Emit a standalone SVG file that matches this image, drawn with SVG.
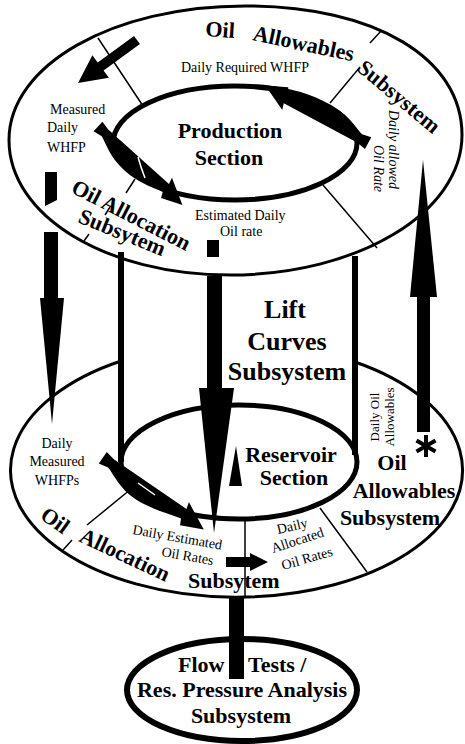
<svg xmlns="http://www.w3.org/2000/svg" width="465" height="744" viewBox="0 0 465 744">
<style>
.o{fill:none;stroke:#000;stroke-width:3}
.i{fill:none;stroke:#000;stroke-width:5}
.d{fill:none;stroke:#000;stroke-width:1.5}
.k{fill:#000;stroke:none}
.b{font-family:"Liberation Serif",serif;font-weight:bold;font-size:22px;fill:#000}
.bl{font-family:"Liberation Serif",serif;font-weight:bold;font-size:26px;fill:#000}
.r{font-family:"Liberation Serif",serif;font-size:14px;fill:#000}
.s{font-family:"Liberation Serif",serif;font-size:13px;fill:#000}
.it{font-family:"Liberation Serif",serif;font-style:italic;font-size:14px;fill:#000}
.m{text-anchor:middle}
</style>
<defs>
<path id="blob" d="M-2,-6 L8,-4 L96,-5 L94,-12 L122,2 L100,12 L97,6 C80,10 60,18 40,16 C25,14 15,8 8,6 L-2,8 Z"/>
</defs>
<rect width="465" height="744" fill="#fff"/>

<g id="oil-allowables-top">
<path class="o" d="M9,140 C9,65 113,6 245,6 C375,6 462,58 462,135 C462,213 357,275 230,275 C106,275 9,216 9,140 Z"/>
<path class="d" d="M98,38 L143,106 M330,103 L360,67 M370,43 L381,31 M323,185 L377,248 M135,179 L126,193 M110,207 L105,215 M89,234 L84,241"/>
<text class="b" transform="translate(205,36) rotate(4)">Oil</text>
<text class="b" transform="translate(252,40) rotate(12)">Allowables</text>
<text class="b" transform="translate(356,70) rotate(40)">Subsystem</text>
<text class="r m" x="245" y="72">Daily Required WHFP</text>
<text class="r" x="50" y="114">Measured</text>
<text class="r" x="47" y="132">Daily</text>
<text class="r" x="47" y="152">WHFP</text>
<text class="it" transform="translate(389,110) rotate(90)">Daily allowed</text>
<text class="it" transform="translate(374,145) rotate(90)">Oil Rate</text>
<text class="b" transform="translate(70,192) rotate(27)">Oil Allocation</text>
<text class="b" transform="translate(77,222) rotate(22)">Subsytem</text>
<text class="r" x="195" y="220">Estimated Daily</text>
<text class="r" x="220" y="236">Oil rate</text>
</g>

<g id="production-section">
<ellipse class="i" cx="235" cy="143" rx="122" ry="57"/>
<text class="b m" x="230" y="138">Production</text>
<text class="b m" x="229" y="165">Section</text>
</g>

<g id="lift-curves">
<path class="o" d="M121,361 A226,127 0 1 0 355,362"/>
<line x1="121" y1="252" x2="121" y2="462" stroke="#000" stroke-width="6"/>
<line x1="355" y1="256" x2="355" y2="455" stroke="#000" stroke-width="6"/>
<text class="bl m" x="285" y="318">Lift</text>
<text class="bl m" x="287" y="350">Curves</text>
<text class="bl m" x="287" y="380">Subsystem</text>
</g>

<g id="lower-ring">
<path class="d" d="M131,489 L87,525 M72,540 L63,550 M245,520 L245,597 M320,508 L367,572"/>
<text class="r m" x="57" y="448">Daily</text>
<text class="r m" x="57" y="466">Measured</text>
<text class="r m" x="57" y="485">WHFPs</text>
<text class="s m" transform="translate(379,417) rotate(-90)">Daily Oil</text>
<text class="s m" transform="translate(394,417) rotate(-90)">Allowables</text>
<text class="b m" x="392" y="470">Oil</text>
<text class="b m" x="404" y="498">Allowables</text>
<text class="b m" x="390" y="525">Subsystem</text>
<text class="b" transform="translate(39,518) rotate(35)">Oil</text>
<text class="b" transform="translate(78,541) rotate(25)">Allocation</text>
<text class="b" x="188" y="588">Subsytem</text>
<text class="r" transform="translate(132,534) rotate(10)">Daily Estimated</text>
<text class="r" transform="translate(161,556) rotate(10)">Oil Rates</text>
<text class="r" transform="translate(278,534) rotate(-13)">Daily</text>
<text class="r" transform="translate(273,553) rotate(-18)">Allocated</text>
<text class="r" transform="translate(283,570) rotate(-16)">Oil Rates</text>
</g>

<g id="reservoir-section">
<ellipse class="i" cx="239" cy="462" rx="118" ry="57"/>
<text class="b m" x="291" y="462">Reservoir</text>
<text class="b m" x="294" y="485">Section</text>
</g>

<g id="flow-tests">
<ellipse cx="242" cy="690" rx="115" ry="51" fill="none" stroke="#000" stroke-width="6"/>
<text class="b" x="178" y="672">Flow</text>
<text class="b" x="248" y="672">Tests /</text>
<text class="b m" x="242" y="697">Res. Pressure Analysis</text>
<text class="b m" x="241" y="723">Subsystem</text>
</g>

<g id="connectors">
<polygon class="k" transform="translate(137,40) rotate(143.9)" points="0,-5 45,-5 45,-14 73,0 45,14 45,5 0,5"/>
<use href="#blob" transform="translate(100,127) rotate(42.5) scale(0.93)"/>
<use href="#blob" transform="translate(366,143) rotate(208.8) scale(0.95)"/>
<use href="#blob" transform="translate(105,458) rotate(35)"/>
<path d="M138,157 Q141,168 145,178" stroke="#fff" stroke-width="1.5" fill="none"/>
<path d="M138,483 L155,495" stroke="#fff" stroke-width="1.5" fill="none"/>
<polygon class="k" points="45,172 57,172 57,200 45,206"/>
<rect class="k" x="44" y="232" width="14" height="68"/>
<polygon class="k" points="40,298 64,298 52,424"/>
<rect class="k" x="207" y="240" width="12" height="17"/>
<rect class="k" x="207" y="276" width="15" height="114"/>
<polygon class="k" points="199,388 234,388 214,533"/>
<polygon class="k" points="423,160 437,297 410,297"/>
<rect class="k" x="417" y="295" width="13" height="137"/>
<path d="M426,435 L426,457 M416.5,440.5 L435.5,451.5 M416.5,451.5 L435.5,440.5" stroke="#000" stroke-width="4" fill="none"/>
<polygon class="k" points="236,446 242,486 229,486"/>
<polygon class="k" points="226,557 250,557 250,553 268,562 250,571 250,567 226,567"/>
<rect class="k" x="229" y="597" width="15" height="82"/>
</g>
</svg>
